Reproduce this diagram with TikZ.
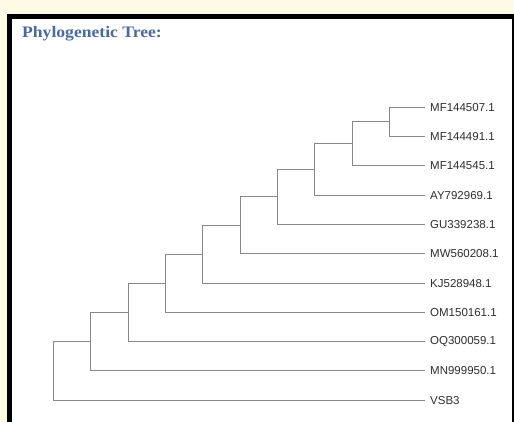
\documentclass[tikz,border=0pt]{standalone}
\usepackage{fontspec}
\setmainfont{Liberation Serif}
\newfontfamily\labfont{Liberation Sans}
\definecolor{cream}{HTML}{FFFAE6}
\definecolor{titleblue}{HTML}{4A6B9A}
\definecolor{branch}{HTML}{878787}
\definecolor{labgray}{HTML}{2E2E2E}
\tikzset{
  branchline/.style={draw=branch, line width=1.25pt},
  leaflabel/.style={anchor=west, inner xsep=5pt, inner ysep=0pt, text=labgray, font=\labfont\fontsize{11.5}{13}\selectfont},
}
\begin{document}
\begin{tikzpicture}[x=1pt,y=-1pt]
\useasboundingbox (0,0) rectangle (514,422);
\begin{scope}
\clip (0,0) rectangle (514,422);
\fill[cream] (0,0) rectangle (514,422);
\fill[black] (7,14) rectangle (530,440);
\fill[white] (12,19) rectangle (512,440);
\end{scope}
\node[anchor=base west, inner sep=0pt, text=titleblue, font=\bfseries\fontsize{16}{18}\selectfont] (title) at (22,38) {\scalebox{1.1}[1]{Phylogenetic Tree:}};

% leaves
\node[leaflabel] (l1) at (425,107.5) {MF144507.1};
\node[leaflabel] (l2) at (425,136.5) {MF144491.1};
\node[leaflabel] (l3) at (425,165.5) {MF144545.1};
\node[leaflabel] (l4) at (425,195.5) {AY792969.1};
\node[leaflabel] (l5) at (425,224.5) {GU339238.1};
\node[leaflabel] (l6) at (425,253.5) {MW560208.1};
\node[leaflabel] (l7) at (425,283.5) {KJ528948.1};
\node[leaflabel] (l8) at (425,312.5) {OM150161.1};
\node[leaflabel] (l9) at (425,341.5) {OQ300059.1};
\node[leaflabel] (l10) at (425,370.5) {MN999950.1};
\node[leaflabel] (l11) at (425,400.5) {VSB3};

% internal nodes
\coordinate (n10) at (389.5,121.5);
\coordinate (n9) at (352.5,143.5);
\coordinate (n8) at (314.5,169.5);
\coordinate (n7) at (277.5,196.5);
\coordinate (n6) at (240.5,225.5);
\coordinate (n5) at (202.5,254.5);
\coordinate (n4) at (165.5,283.5);
\coordinate (n3) at (128.5,312.5);
\coordinate (n2) at (90.5,341.5);
\coordinate (n1) at (53.5,370.5);

\draw[branchline] (l1.west) -| (n10) |- (l2.west);
\draw[branchline] (n10) -| (n9) |- (l3.west);
\draw[branchline] (n9) -| (n8) |- (l4.west);
\draw[branchline] (n8) -| (n7) |- (l5.west);
\draw[branchline] (n7) -| (n6) |- (l6.west);
\draw[branchline] (n6) -| (n5) |- (l7.west);
\draw[branchline] (n5) -| (n4) |- (l8.west);
\draw[branchline] (n4) -| (n3) |- (l9.west);
\draw[branchline] (n3) -| (n2) |- (l10.west);
\draw[branchline] (n2) -| (n1) |- (l11.west);
\end{tikzpicture}
\end{document}
